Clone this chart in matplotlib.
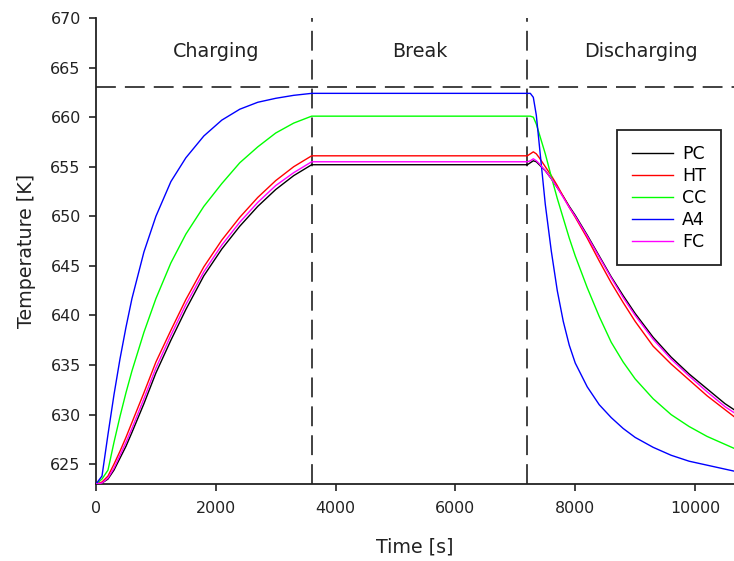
import matplotlib
matplotlib.use("Agg")
import matplotlib.pyplot as plt

plt.rcParams['font.family'] = ['DejaVu Sans']

# time grid [s]: charging 0-3600, break 3600-7200, discharging 7200-10650
time_s = [0, 100, 200, 300, 400, 500, 600, 800, 1000, 1250, 1500, 1800, 2100,
          2400, 2700, 3000, 3300, 3600,
          7200, 7250, 7300, 7350, 7400, 7500, 7600, 7700, 7800, 7900, 8000,
          8200, 8400, 8600, 8800, 9000, 9300, 9600, 9900, 10200, 10500, 10650]

# temperatures [K]
temp_pc = [623.0, 623.1, 623.5, 624.4, 625.6, 626.8, 628.2, 631.1, 634.2, 637.5,
           640.6, 644.0, 646.7, 649.0, 651.0, 652.7, 654.1, 655.2,
           655.2, 655.4, 655.6, 655.5, 655.2, 654.6, 653.8, 652.9, 652.0, 651.0,
           650.1, 648.1, 646.0, 643.9, 642.0, 640.2, 637.8, 635.8, 634.1, 632.6,
           631.1, 630.5]
temp_ht = [623.0, 623.2, 623.8, 625.0, 626.3, 627.7, 629.2, 632.2, 635.3, 638.5,
           641.6, 644.9, 647.6, 649.9, 651.9, 653.6, 655.0, 656.1,
           656.1, 656.3, 656.5, 656.3, 655.9, 655.0, 654.1, 653.1, 652.0, 650.9,
           649.9, 647.8, 645.5, 643.3, 641.3, 639.4, 636.9, 635.1, 633.5, 631.9,
           630.5, 629.8]
temp_cc = [623.0, 623.5, 624.4, 627.2, 629.8, 632.2, 634.4, 638.3, 641.7, 645.3,
           648.2, 651.0, 653.3, 655.4, 657.0, 658.4, 659.4, 660.1,
           660.1, 660.1, 660.0, 659.3, 658.3, 656.3, 654.0, 651.8, 649.8, 647.8,
           646.0, 642.8, 639.9, 637.3, 635.3, 633.6, 631.6, 630.0, 628.8, 627.8,
           627.0, 626.6]
temp_a4 = [623.0, 623.8, 628.0, 632.0, 635.6, 638.8, 641.7, 646.4, 650.0, 653.5,
           655.9, 658.1, 659.7, 660.8, 661.5, 661.9, 662.2, 662.4,
           662.4, 662.4, 662.0, 660.2, 657.2, 651.2, 646.5, 642.5, 639.4, 637.0,
           635.2, 632.8, 631.0, 629.7, 628.6, 627.7, 626.7, 625.9, 625.3, 624.9,
           624.5, 624.3]
temp_fc = [623.0, 623.1, 623.6, 624.6, 625.9, 627.2, 628.6, 631.6, 634.7, 638.0,
           641.1, 644.4, 647.1, 649.4, 651.4, 653.1, 654.4, 655.5,
           655.5, 655.6, 655.8, 655.6, 655.3, 654.6, 653.8, 652.9, 651.9, 650.9,
           650.0, 648.0, 645.9, 643.8, 641.8, 640.0, 637.6, 635.6, 633.9, 632.3,
           630.8, 630.2]

series = [("PC", temp_pc, "#000000"), ("HT", temp_ht, "#ff0000"),
          ("CC", temp_cc, "#00ff00"), ("A4", temp_a4, "#0000ff"),
          ("FC", temp_fc, "#ff00ff")]

phase_edges = [3600, 7200]
phase_names = ["Charging", "Break", "Discharging"]
phase_x = [2000, 5400, 9100]
melt_temp = 663.0

fig = plt.figure(figsize=(7.34, 5.61), dpi=100)
ax = fig.add_axes([96 / 734, 77 / 561, 638 / 734, 466 / 561])

for name, temps, col in series:
    ax.plot(time_s, temps, color=col, lw=1.0, label=name, zorder=3)

dash = (0, (11, 5))
ax.axhline(melt_temp, color="#333333", lw=1.3, ls=dash, zorder=2)
for xe in phase_edges:
    ax.axvline(xe, color="#333333", lw=1.3, ls=dash, zorder=2)
for xt, name in zip(phase_x, phase_names):
    ax.text(xt, 666.6, name, ha="center", va="center", fontsize=13.8, color="#222222")

ax.set_xlim(0, 10650)
ax.set_ylim(623, 670)
ax.set_xticks([0, 2000, 4000, 6000, 8000, 10000])
ax.set_yticks(range(625, 671, 5))
ax.tick_params(direction="out", length=5, width=1.2, labelsize=11.4,
               colors="#222222", pad=6)
ax.tick_params(axis="x", pad=7)
for s in ["top", "right"]:
    ax.spines[s].set_visible(False)
for s in ["left", "bottom"]:
    ax.spines[s].set_linewidth(1.3)
    ax.spines[s].set_color("#222222")

ax.set_xlabel("Time [s]", fontsize=13.7, color="#222222", labelpad=16)
ax.set_ylabel("Temperature [K]", fontsize=13.7, color="#222222", labelpad=10)

leg = ax.legend(loc="upper left", bbox_to_anchor=(617 / 734, 1 - 130 / 561),
                bbox_transform=fig.transFigure, fontsize=12.5, frameon=True,
                fancybox=False, framealpha=1, edgecolor="#222222",
                handlelength=2.4, handletextpad=0.5, borderpad=0.85,
                labelspacing=0.23, borderaxespad=0)
leg.get_frame().set_linewidth(1.3)

fig.savefig("out.png", dpi=100)
